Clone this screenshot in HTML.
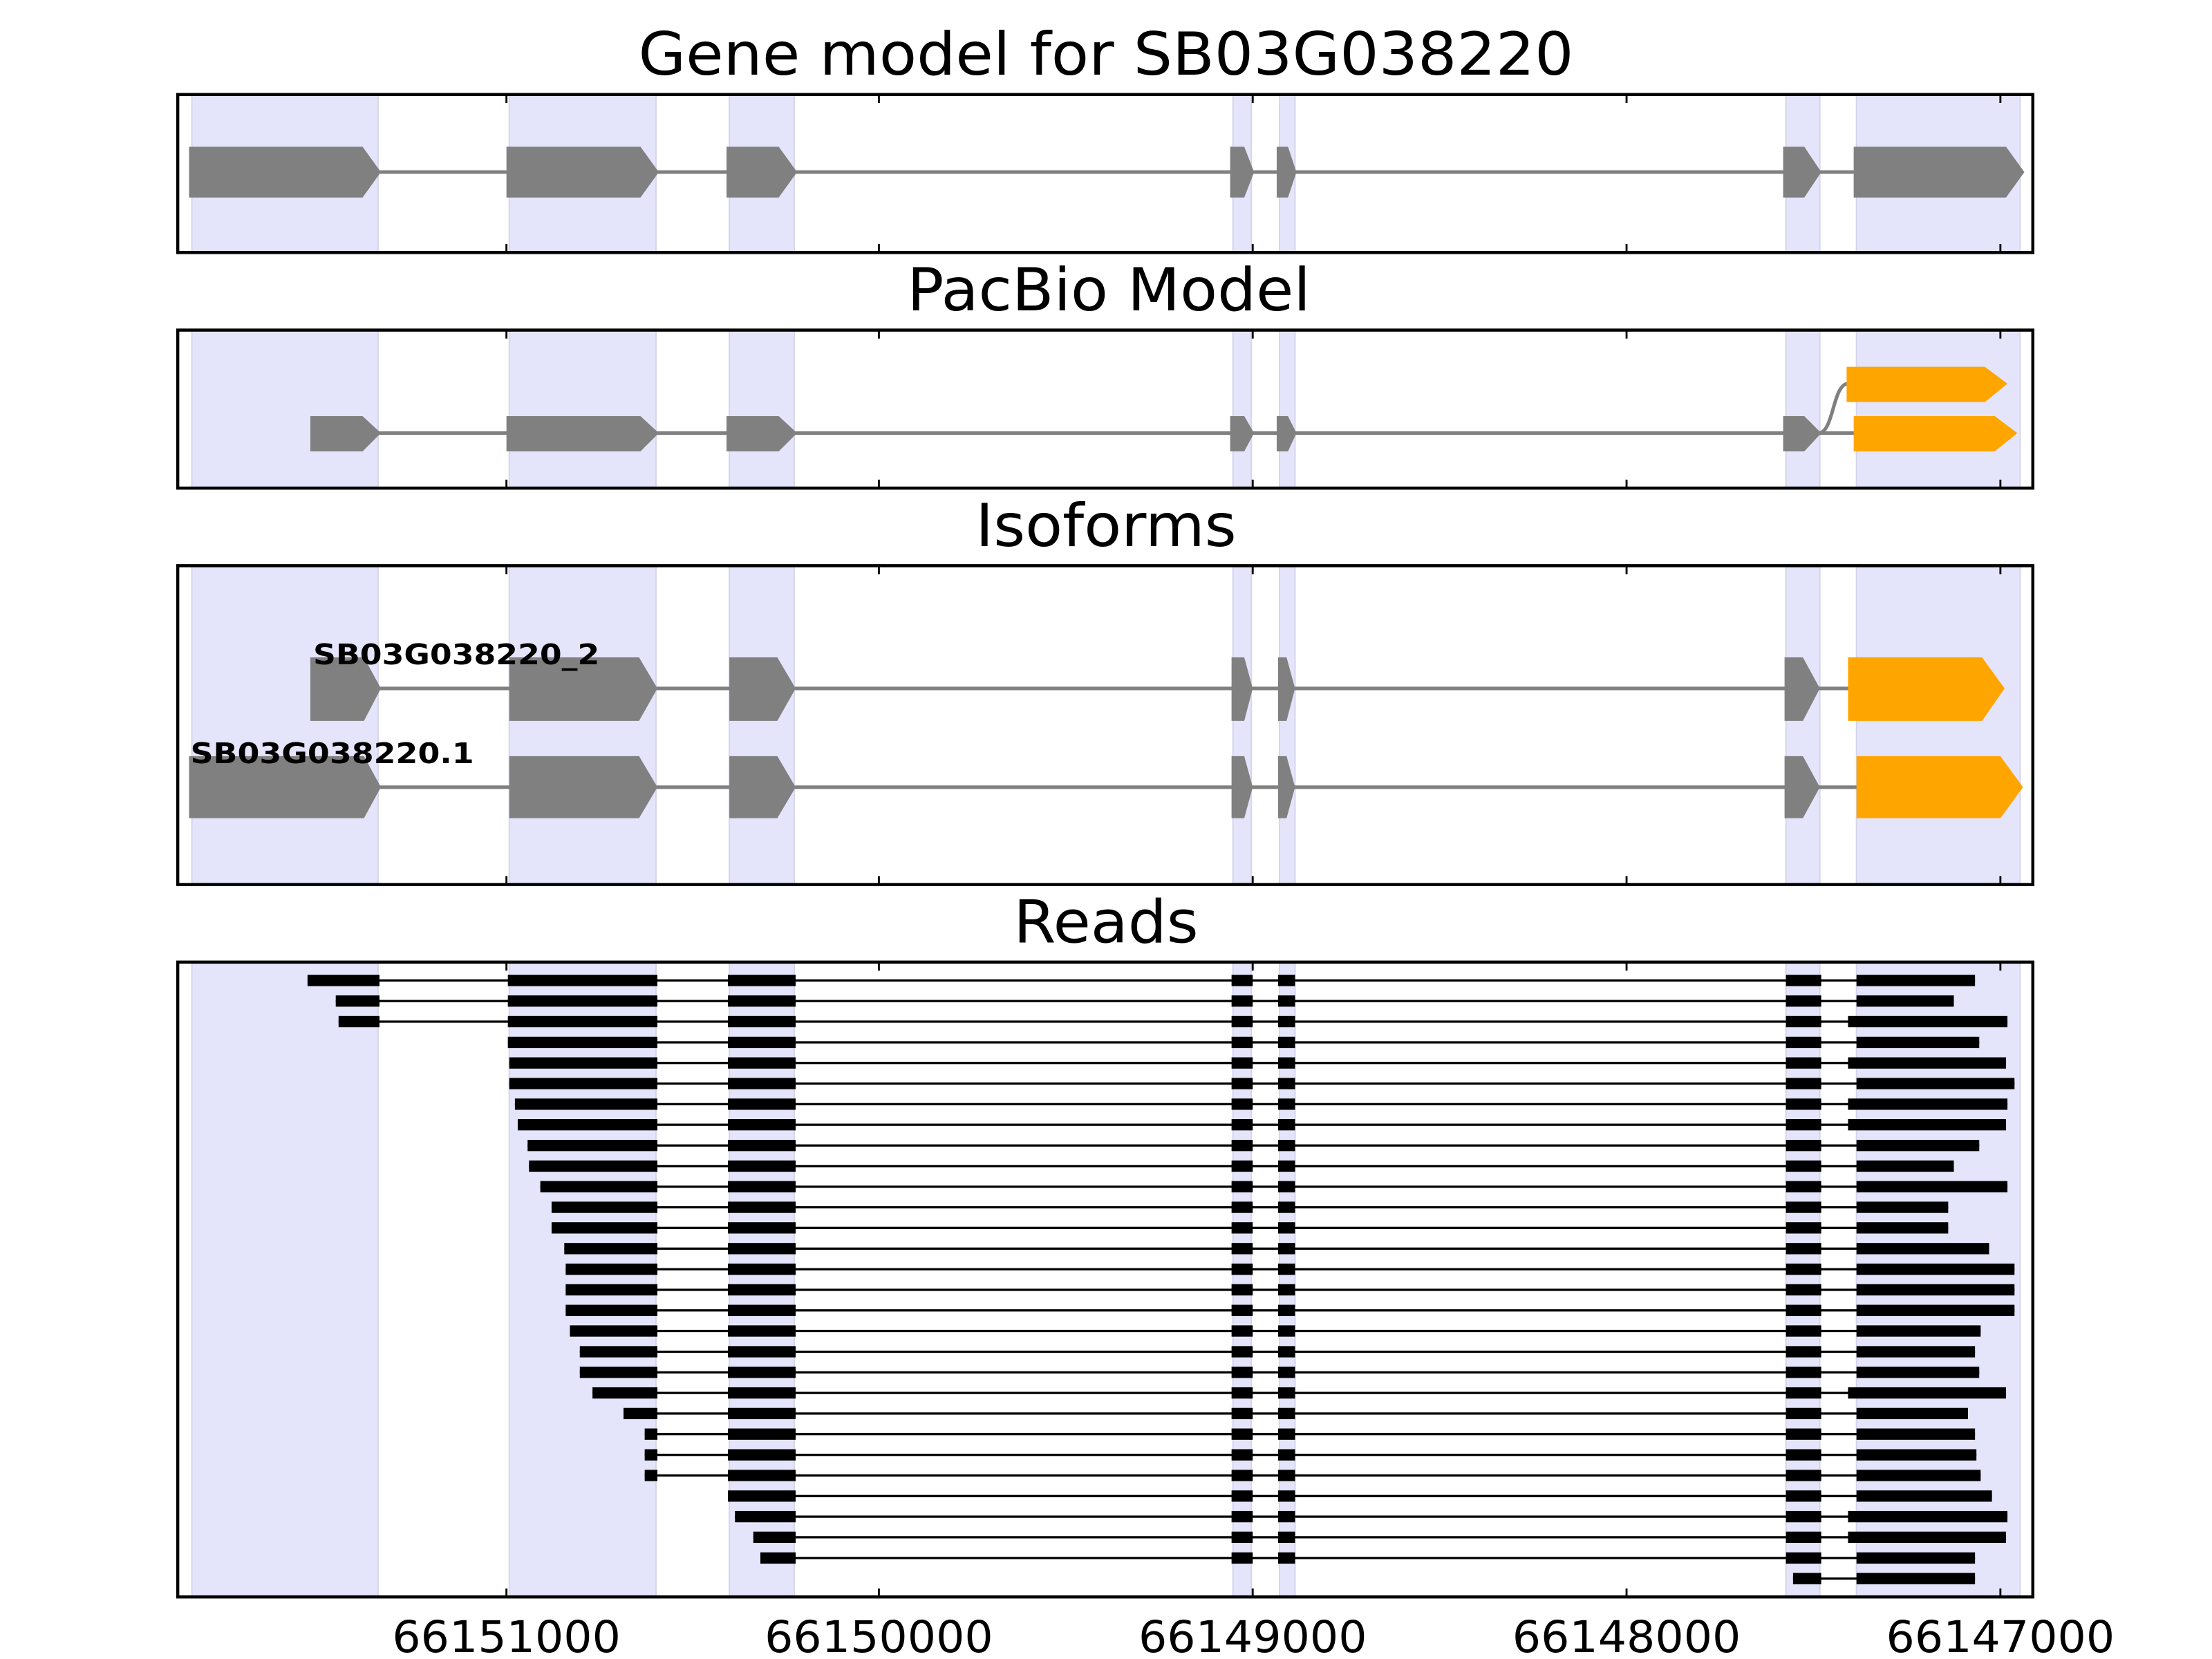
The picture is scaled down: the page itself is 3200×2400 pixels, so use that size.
<!DOCTYPE html>
<html><head><meta charset="utf-8"><style>
html,body{margin:0;padding:0;background:#fff;}
svg{display:block;}
text{font-family:"DejaVu Sans","Liberation Sans",sans-serif;}
</style></head><body>
<svg width="3200" height="2400" viewBox="0 0 1568 1176" xmlns="http://www.w3.org/2000/svg">
<defs>
<g id="shade1">
<rect x="136" y="0" width="132" height="1" />
</g>
</defs>
<rect width="1568" height="1176" fill="#fff"/>

<!-- Shading per panel -->
<g fill="#e4e4fb" stroke="#d6d6ea" stroke-width="1">
  <g id="sh">
  <rect x="136" y="67" width="132" height="112"/>
  <rect x="361" y="67" width="104" height="112"/>
  <rect x="517" y="67" width="46" height="112"/>
  <rect x="874" y="67" width="13" height="112"/>
  <rect x="907" y="67" width="11" height="112"/>
  <rect x="1266" y="67" width="24" height="112"/>
  <rect x="1316" y="67" width="116" height="112"/>
  </g>
  <rect x="136" y="234" width="132" height="112"/>
  <rect x="361" y="234" width="104" height="112"/>
  <rect x="517" y="234" width="46" height="112"/>
  <rect x="874" y="234" width="13" height="112"/>
  <rect x="907" y="234" width="11" height="112"/>
  <rect x="1266" y="234" width="24" height="112"/>
  <rect x="1316" y="234" width="116" height="112"/>

  <rect x="136" y="401" width="132" height="226"/>
  <rect x="361" y="401" width="104" height="226"/>
  <rect x="517" y="401" width="46" height="226"/>
  <rect x="874" y="401" width="13" height="226"/>
  <rect x="907" y="401" width="11" height="226"/>
  <rect x="1266" y="401" width="24" height="226"/>
  <rect x="1316" y="401" width="116" height="226"/>

  <rect x="136" y="682" width="132" height="450"/>
  <rect x="361" y="682" width="104" height="450"/>
  <rect x="517" y="682" width="46" height="450"/>
  <rect x="874" y="682" width="13" height="450"/>
  <rect x="907" y="682" width="11" height="450"/>
  <rect x="1266" y="682" width="24" height="450"/>
  <rect x="1316" y="682" width="116" height="450"/>
</g>

<!-- Panel 1: gene model -->
<g>
<line x1="262" y1="122" x2="1320" y2="122" stroke="#808080" stroke-width="2.5"/>
<g fill="#808080">
<polygon points="134,104 257,104 270,122 257,140 134,140"/>
<polygon points="359,104 454,104 467,122 454,140 359,140"/>
<polygon points="515,104 552,104 565,122 552,140 515,140"/>
<polygon points="872,104 882,104 889,122 882,140 872,140"/>
<polygon points="905,104 913,104 919,122 913,140 905,140"/>
<polygon points="1264,104 1279,104 1291,122 1279,140 1264,140"/>
<polygon points="1314,104 1422,104 1435,122 1422,140 1314,140"/>
</g>
</g>

<!-- Panel 2: PacBio -->
<g>
<line x1="262" y1="307" x2="1320" y2="307" stroke="#808080" stroke-width="2.5"/>
<path d="M1289,307 C1300,307 1299,272 1310,272" fill="none" stroke="#808080" stroke-width="2.5"/>
<g fill="#808080">
<polygon points="220,295 257,295 270,307 257,320 220,320"/>
<polygon points="359,295 454,295 467,307 454,320 359,320"/>
<polygon points="515,295 552,295 565,307 552,320 515,320"/>
<polygon points="872,295 882,295 889,307 882,320 872,320"/>
<polygon points="905,295 913,295 919,307 913,320 905,320"/>
<polygon points="1264,295 1279,295 1291,307 1279,320 1264,320"/>
</g>
<g fill="#ffa500">
<polygon points="1314,295 1414,295 1430,307 1414,320 1314,320"/>
<polygon points="1309,260 1407,260 1423,272 1407,285 1309,285"/>
</g>
</g>

<!-- Panel 3: Isoforms -->
<g>
<line x1="262" y1="488" x2="1312" y2="488" stroke="#808080" stroke-width="2.5"/>
<line x1="262" y1="558" x2="1318" y2="558" stroke="#808080" stroke-width="2.5"/>
<g fill="#808080">
<polygon points="220,466 258,466 270,488 258,511 220,511"/>
<polygon points="361,466 453,466 466,488 453,511 361,511"/>
<polygon points="517,466 551,466 564,488 551,511 517,511"/>
<polygon points="873,466 882,466 888,488 882,511 873,511"/>
<polygon points="906,466 912,466 918,488 912,511 906,511"/>
<polygon points="1265,466 1278,466 1290,488 1278,511 1265,511"/>

<polygon points="134,536 258,536 270,558 258,580 134,580"/>
<polygon points="361,536 453,536 466,558 453,580 361,580"/>
<polygon points="517,536 551,536 564,558 551,580 517,580"/>
<polygon points="873,536 882,536 888,558 882,580 873,580"/>
<polygon points="906,536 912,536 918,558 912,580 906,580"/>
<polygon points="1265,536 1278,536 1290,558 1278,580 1265,580"/>
</g>
<g fill="#ffa500">
<polygon points="1310,466 1405,466 1421,488 1405,511 1310,511"/>
<polygon points="1316,536 1418,536 1434,558 1418,580 1316,580"/>
</g>
<text x="222" y="471" font-size="20" font-weight="bold" textLength="203" lengthAdjust="spacingAndGlyphs">SB03G038220_2</text>
<text x="135" y="541" font-size="20" font-weight="bold" textLength="201" lengthAdjust="spacingAndGlyphs">SB03G038220.1</text>
</g>

<!-- Panel 4: Reads -->
<defs>
<g id="c"><rect x="873" y="-4" width="15" height="8"/><rect x="906" y="-4" width="12" height="8"/><rect x="1266" y="-4" width="25" height="8"/></g>
</defs>
<g fill="#000" stroke="none">
<g transform="translate(0,695)"><rect x="218" y="-0.8" width="1182" height="1.6"/><rect x="218" y="-4" width="51" height="8"/><rect x="360" y="-4" width="106" height="8"/><rect x="516" y="-4" width="48" height="8"/><use href="#c"/><rect x="1316" y="-4" width="84" height="8"/></g>
<g transform="translate(0,709.6)"><rect x="238" y="-0.8" width="1147" height="1.6"/><rect x="238" y="-4" width="31" height="8"/><rect x="360" y="-4" width="106" height="8"/><rect x="516" y="-4" width="48" height="8"/><use href="#c"/><rect x="1316" y="-4" width="69" height="8"/></g>
<g transform="translate(0,724.2)"><rect x="240" y="-0.8" width="1183" height="1.6"/><rect x="240" y="-4" width="29" height="8"/><rect x="360" y="-4" width="106" height="8"/><rect x="516" y="-4" width="48" height="8"/><use href="#c"/><rect x="1310" y="-4" width="113" height="8"/></g>
<g transform="translate(0,738.9)"><rect x="360" y="-0.8" width="1043" height="1.6"/><rect x="360" y="-4" width="106" height="8"/><rect x="516" y="-4" width="48" height="8"/><use href="#c"/><rect x="1316" y="-4" width="87" height="8"/></g>
<g transform="translate(0,753.5)"><rect x="361" y="-0.8" width="1061" height="1.6"/><rect x="361" y="-4" width="105" height="8"/><rect x="516" y="-4" width="48" height="8"/><use href="#c"/><rect x="1310" y="-4" width="112" height="8"/></g>
<g transform="translate(0,768.1)"><rect x="361" y="-0.8" width="1067" height="1.6"/><rect x="361" y="-4" width="105" height="8"/><rect x="516" y="-4" width="48" height="8"/><use href="#c"/><rect x="1316" y="-4" width="112" height="8"/></g>
<g transform="translate(0,782.7)"><rect x="365" y="-0.8" width="1058" height="1.6"/><rect x="365" y="-4" width="101" height="8"/><rect x="516" y="-4" width="48" height="8"/><use href="#c"/><rect x="1310" y="-4" width="113" height="8"/></g>
<g transform="translate(0,797.3)"><rect x="367" y="-0.8" width="1055" height="1.6"/><rect x="367" y="-4" width="99" height="8"/><rect x="516" y="-4" width="48" height="8"/><use href="#c"/><rect x="1310" y="-4" width="112" height="8"/></g>
<g transform="translate(0,812.0)"><rect x="374" y="-0.8" width="1029" height="1.6"/><rect x="374" y="-4" width="92" height="8"/><rect x="516" y="-4" width="48" height="8"/><use href="#c"/><rect x="1316" y="-4" width="87" height="8"/></g>
<g transform="translate(0,826.6)"><rect x="375" y="-0.8" width="1010" height="1.6"/><rect x="375" y="-4" width="91" height="8"/><rect x="516" y="-4" width="48" height="8"/><use href="#c"/><rect x="1316" y="-4" width="69" height="8"/></g>
<g transform="translate(0,841.2)"><rect x="383" y="-0.8" width="1040" height="1.6"/><rect x="383" y="-4" width="83" height="8"/><rect x="516" y="-4" width="48" height="8"/><use href="#c"/><rect x="1316" y="-4" width="107" height="8"/></g>
<g transform="translate(0,855.8)"><rect x="391" y="-0.8" width="990" height="1.6"/><rect x="391" y="-4" width="75" height="8"/><rect x="516" y="-4" width="48" height="8"/><use href="#c"/><rect x="1316" y="-4" width="65" height="8"/></g>
<g transform="translate(0,870.4)"><rect x="391" y="-0.8" width="990" height="1.6"/><rect x="391" y="-4" width="75" height="8"/><rect x="516" y="-4" width="48" height="8"/><use href="#c"/><rect x="1316" y="-4" width="65" height="8"/></g>
<g transform="translate(0,885.1)"><rect x="400" y="-0.8" width="1010" height="1.6"/><rect x="400" y="-4" width="66" height="8"/><rect x="516" y="-4" width="48" height="8"/><use href="#c"/><rect x="1316" y="-4" width="94" height="8"/></g>
<g transform="translate(0,899.7)"><rect x="401" y="-0.8" width="1027" height="1.6"/><rect x="401" y="-4" width="65" height="8"/><rect x="516" y="-4" width="48" height="8"/><use href="#c"/><rect x="1316" y="-4" width="112" height="8"/></g>
<g transform="translate(0,914.3)"><rect x="401" y="-0.8" width="1027" height="1.6"/><rect x="401" y="-4" width="65" height="8"/><rect x="516" y="-4" width="48" height="8"/><use href="#c"/><rect x="1316" y="-4" width="112" height="8"/></g>
<g transform="translate(0,928.9)"><rect x="401" y="-0.8" width="1027" height="1.6"/><rect x="401" y="-4" width="65" height="8"/><rect x="516" y="-4" width="48" height="8"/><use href="#c"/><rect x="1316" y="-4" width="112" height="8"/></g>
<g transform="translate(0,943.5)"><rect x="404" y="-0.8" width="1000" height="1.6"/><rect x="404" y="-4" width="62" height="8"/><rect x="516" y="-4" width="48" height="8"/><use href="#c"/><rect x="1316" y="-4" width="88" height="8"/></g>
<g transform="translate(0,958.2)"><rect x="411" y="-0.8" width="989" height="1.6"/><rect x="411" y="-4" width="55" height="8"/><rect x="516" y="-4" width="48" height="8"/><use href="#c"/><rect x="1316" y="-4" width="84" height="8"/></g>
<g transform="translate(0,972.8)"><rect x="411" y="-0.8" width="992" height="1.6"/><rect x="411" y="-4" width="55" height="8"/><rect x="516" y="-4" width="48" height="8"/><use href="#c"/><rect x="1316" y="-4" width="87" height="8"/></g>
<g transform="translate(0,987.4)"><rect x="420" y="-0.8" width="1002" height="1.6"/><rect x="420" y="-4" width="46" height="8"/><rect x="516" y="-4" width="48" height="8"/><use href="#c"/><rect x="1310" y="-4" width="112" height="8"/></g>
<g transform="translate(0,1002.0)"><rect x="442" y="-0.8" width="953" height="1.6"/><rect x="442" y="-4" width="24" height="8"/><rect x="516" y="-4" width="48" height="8"/><use href="#c"/><rect x="1316" y="-4" width="79" height="8"/></g>
<g transform="translate(0,1016.6)"><rect x="457" y="-0.8" width="943" height="1.6"/><rect x="457" y="-4" width="9" height="8"/><rect x="516" y="-4" width="48" height="8"/><use href="#c"/><rect x="1316" y="-4" width="84" height="8"/></g>
<g transform="translate(0,1031.3)"><rect x="457" y="-0.8" width="944" height="1.6"/><rect x="457" y="-4" width="9" height="8"/><rect x="516" y="-4" width="48" height="8"/><use href="#c"/><rect x="1316" y="-4" width="85" height="8"/></g>
<g transform="translate(0,1045.9)"><rect x="457" y="-0.8" width="947" height="1.6"/><rect x="457" y="-4" width="9" height="8"/><rect x="516" y="-4" width="48" height="8"/><use href="#c"/><rect x="1316" y="-4" width="88" height="8"/></g>
<g transform="translate(0,1060.5)"><rect x="516" y="-0.8" width="896" height="1.6"/><rect x="516" y="-4" width="48" height="8"/><use href="#c"/><rect x="1316" y="-4" width="96" height="8"/></g>
<g transform="translate(0,1075.1)"><rect x="521" y="-0.8" width="902" height="1.6"/><rect x="521" y="-4" width="43" height="8"/><use href="#c"/><rect x="1310" y="-4" width="113" height="8"/></g>
<g transform="translate(0,1089.7)"><rect x="534" y="-0.8" width="888" height="1.6"/><rect x="534" y="-4" width="30" height="8"/><use href="#c"/><rect x="1310" y="-4" width="112" height="8"/></g>
<g transform="translate(0,1104.4)"><rect x="539" y="-0.8" width="861" height="1.6"/><rect x="539" y="-4" width="25" height="8"/><use href="#c"/><rect x="1316" y="-4" width="84" height="8"/></g>
<g transform="translate(0,1119.0)"><rect x="1271" y="-0.8" width="129" height="1.6"/><rect x="1271" y="-4" width="20" height="8"/><rect x="1316" y="-4" width="84" height="8"/></g>
</g>

<!-- Axes frames and ticks -->
<g fill="none" stroke="#000" stroke-width="2.2">
<rect x="126" y="67" width="1315" height="112"/>
<rect x="126" y="234" width="1315" height="112"/>
<rect x="126" y="401" width="1315" height="226"/>
<rect x="126" y="682" width="1315" height="450"/>
</g>
<g stroke="#000" stroke-width="1.4">
<path d="M359,67v6M623,67v6M888,67v6M1153,67v6M1418,67v6M359,179v-6M623,179v-6M888,179v-6M1153,179v-6M1418,179v-6"/>
<path d="M359,234v6M623,234v6M888,234v6M1153,234v6M1418,234v6M359,346v-6M623,346v-6M888,346v-6M1153,346v-6M1418,346v-6"/>
<path d="M359,401v6M623,401v6M888,401v6M1153,401v6M1418,401v6M359,627v-6M623,627v-6M888,627v-6M1153,627v-6M1418,627v-6"/>
<path d="M359,682v6M623,682v6M888,682v6M1153,682v6M1418,682v6M359,1132v-6M623,1132v-6M888,1132v-6M1153,1132v-6M1418,1132v-6"/>
</g>

<!-- Titles -->
<g fill="#000" text-anchor="middle">
<text x="784" y="53" font-size="42" textLength="663" lengthAdjust="spacingAndGlyphs">Gene model for SB03G038220</text>
<text x="786" y="220" font-size="42" textLength="286" lengthAdjust="spacingAndGlyphs">PacBio Model</text>
<text x="784" y="387" font-size="42" textLength="185" lengthAdjust="spacingAndGlyphs">Isoforms</text>
<text x="784" y="668" font-size="42" textLength="131" lengthAdjust="spacingAndGlyphs">Reads</text>
</g>
<g fill="#000" text-anchor="middle" font-size="31">
<text x="359" y="1171" textLength="162" lengthAdjust="spacingAndGlyphs">66151000</text>
<text x="623" y="1171" textLength="162" lengthAdjust="spacingAndGlyphs">66150000</text>
<text x="888" y="1171" textLength="162" lengthAdjust="spacingAndGlyphs">66149000</text>
<text x="1153" y="1171" textLength="162" lengthAdjust="spacingAndGlyphs">66148000</text>
<text x="1418" y="1171" textLength="162" lengthAdjust="spacingAndGlyphs">66147000</text>
</g>
</svg>
</body></html>
